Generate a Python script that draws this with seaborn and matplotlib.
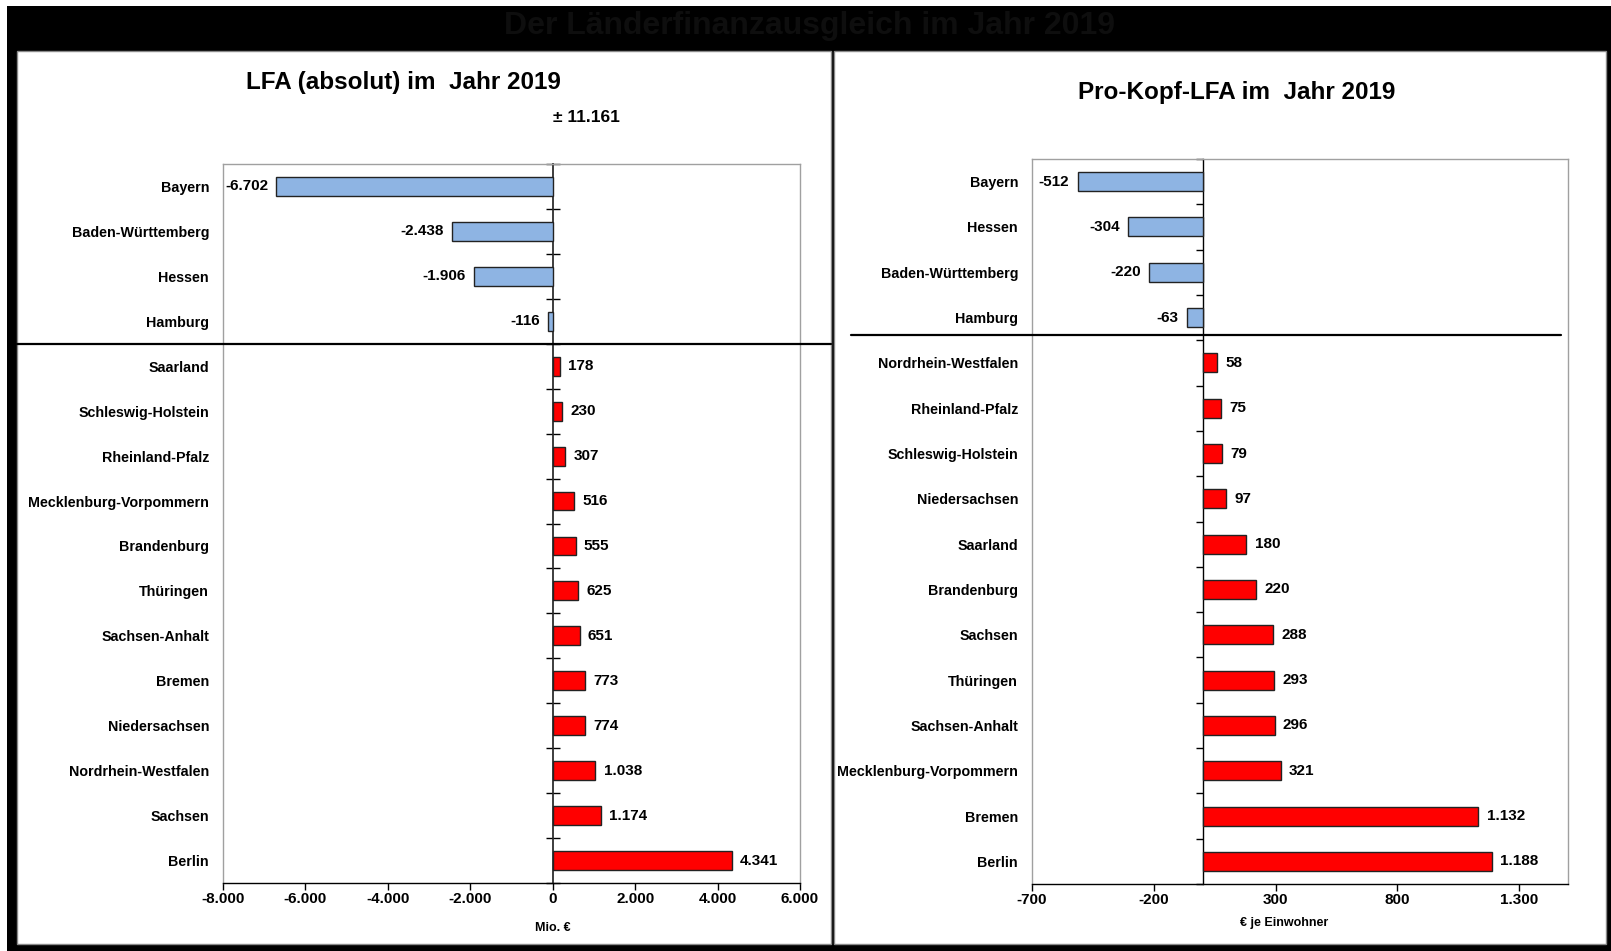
import matplotlib
matplotlib.use("Agg")
import numpy as np
import pandas as pd
import matplotlib.pyplot as plt
import matplotlib.transforms as mtransforms
import seaborn as sns
from matplotlib.patches import Rectangle
from matplotlib.lines import Line2D
from matplotlib.ticker import FuncFormatter
from matplotlib import font_manager

# Daten: LFA absolut (Mio. €)
abs_laender = ["Bayern", "Baden-Württemberg", "Hessen", "Hamburg", "Saarland",
               "Schleswig-Holstein", "Rheinland-Pfalz", "Mecklenburg-Vorpommern",
               "Brandenburg", "Thüringen", "Sachsen-Anhalt", "Bremen",
               "Niedersachsen", "Nordrhein-Westfalen", "Sachsen", "Berlin"]
abs_werte = [-6702, -2438, -1906, -116, 178, 230, 307, 516,
             555, 625, 651, 773, 774, 1038, 1174, 4341]
abs_ticks = [-8000, -6000, -4000, -2000, 0, 2000, 4000, 6000]

# Daten: Pro-Kopf-LFA (€ je Einwohner)
kopf_laender = ["Bayern", "Hessen", "Baden-Württemberg", "Hamburg",
                "Nordrhein-Westfalen", "Rheinland-Pfalz", "Schleswig-Holstein",
                "Niedersachsen", "Saarland", "Brandenburg", "Sachsen", "Thüringen",
                "Sachsen-Anhalt", "Mecklenburg-Vorpommern", "Bremen", "Berlin"]
kopf_werte = [-512, -304, -220, -63, 58, 75, 79, 97,
              180, 220, 288, 293, 296, 321, 1132, 1188]
kopf_ticks = [-700, -200, 300, 800, 1300]

BLAU = "#8EB4E3"
ROT = "#FF0000"

sns.set_theme(style="white")
installed = {f.name for f in font_manager.fontManager.ttflist}
narrow = "Liberation Sans Narrow" if "Liberation Sans Narrow" in installed else "Liberation Sans"
plt.rcParams["font.family"] = [narrow, "DejaVu Sans"]
plt.rcParams["text.color"] = "black"
plt.rcParams["xtick.color"] = "black"
plt.rcParams["ytick.color"] = "black"
plt.rcParams["axes.labelcolor"] = "black"
NAME_SIZE = 12 if narrow.endswith("Narrow") else 10.3

W, H = 1611, 951
fig = plt.figure(figsize=(W / 100, H / 100), dpi=100, facecolor="white")


def fx(x):
    return x / W


def fy(y):
    return 1 - y / H


def rect(x0, y0, x1, y1, **kw):
    fig.patches.append(Rectangle((fx(x0), fy(y1)), fx(x1 - x0), (y1 - y0) / H,
                                 transform=fig.transFigure, figure=fig, zorder=-5, **kw))


# Rahmen
rect(7, 6, W, H, facecolor="black", edgecolor="none")
rect(17, 51, 831, 944, facecolor="white", edgecolor="#8a8a8a", lw=1)
rect(834, 51, 1606, 944, facecolor="white", edgecolor="#8a8a8a", lw=1)


def de(v):
    return f"{v:,.0f}".replace(",", ".")


def panel(box, laender, werte, xlim, xticks, ypad, sep_x, sep_dy, xlabel, xlabel_pos):
    x0, y0, x1, y1 = box
    ax = fig.add_axes([fx(x0), fy(y1), fx(x1 - x0), (y1 - y0) / H])
    df = pd.DataFrame({"land": laender, "wert": werte})
    df["seite"] = np.where(df["wert"] < 0, "zahler", "empfaenger")
    sns.barplot(data=df, x="wert", y="land", hue="seite", orient="h",
                palette={"zahler": BLAU, "empfaenger": ROT}, saturation=1,
                width=0.42, edgecolor="#222222", linewidth=1, legend=False, ax=ax)
    ax.set_xlim(xlim)
    ax.set_ylim(len(laender) - 0.5, -0.5)
    ax.set_xticks(xticks)
    ax.xaxis.set_major_formatter(FuncFormatter(lambda v, p: de(v)))
    ax.tick_params(axis="x", bottom=True, length=5, width=1, color="black",
                   direction="out", labelsize=11, pad=1.5)
    ax.tick_params(axis="y", left=False, length=0, pad=ypad, labelsize=NAME_SIZE)
    for t in ax.get_xticklabels() + ax.get_yticklabels():
        t.set_fontweight("bold")
    ax.set_ylabel("")
    ax.set_xlabel("")
    ax.text(xlabel_pos[0], xlabel_pos[1], xlabel, transform=ax.transAxes,
            ha="center", va="center", fontsize=9, fontweight="bold")
    for s in ["top", "right", "left"]:
        ax.spines[s].set_color("#a0a0a0")
        ax.spines[s].set_linewidth(1)
    ax.spines["bottom"].set_color("black")
    ax.spines["bottom"].set_linewidth(1)

    # Nulllinie mit Kategorie-Strichen
    loc = (0 - xlim[0]) / (xlim[1] - xlim[0])
    sec = ax.secondary_yaxis(loc)
    sec.set_yticks(np.arange(len(laender) + 1) - 0.5)
    sec.set_yticklabels([])
    sec.tick_params(left=True, length=5, width=1, color="black", direction="out")
    sec.spines["left"].set_color("black")
    sec.spines["left"].set_linewidth(1)

    for c in ax.containers:
        ax.bar_label(c, labels=[de(v) for v in c.datavalues], padding=6,
                     fontsize=11, fontweight="bold")

    # Trennlinie Zahler / Empfaenger
    n_neg = int((df["wert"] < 0).sum())
    tr = mtransforms.blended_transform_factory(fig.transFigure, ax.transData)
    fig.add_artist(Line2D([fx(sep_x[0]), fx(sep_x[1])], [n_neg - 0.5 + sep_dy] * 2,
                          transform=tr, color="black", lw=1.6))
    return ax


panel((223, 164, 800, 883), abs_laender, abs_werte, (-8000, 6000), abs_ticks,
      10, (17, 831), 0.0, "Mio. €", (0.572, -0.063))
panel((1032, 159, 1568, 884), kopf_laender, kopf_werte, (-700, 1500), kopf_ticks,
      10, (851, 1561), -0.12, "€ je Einwohner", (0.47, -0.054))

fig.text(fx(810), fy(26), "Der Länderfinanzausgleich im Jahr 2019", ha="center",
         va="center", fontsize=23, fontweight="bold", color="#0e0e0e")
fig.text(fx(403), fy(82), "LFA (absolut) im  Jahr 2019", ha="center", va="center",
         fontsize=17.5, fontweight="bold", family=["Liberation Sans", "DejaVu Sans"])
fig.text(fx(1237), fy(93), "Pro-Kopf-LFA im  Jahr 2019", ha="center", va="center",
         fontsize=17.5, fontweight="bold", family=["Liberation Sans", "DejaVu Sans"])
fig.text(fx(586), fy(118), "± 11.161", ha="center", va="center",
         fontsize=12.5, fontweight="bold")

fig.savefig("out.png", dpi=100, facecolor=fig.get_facecolor())
